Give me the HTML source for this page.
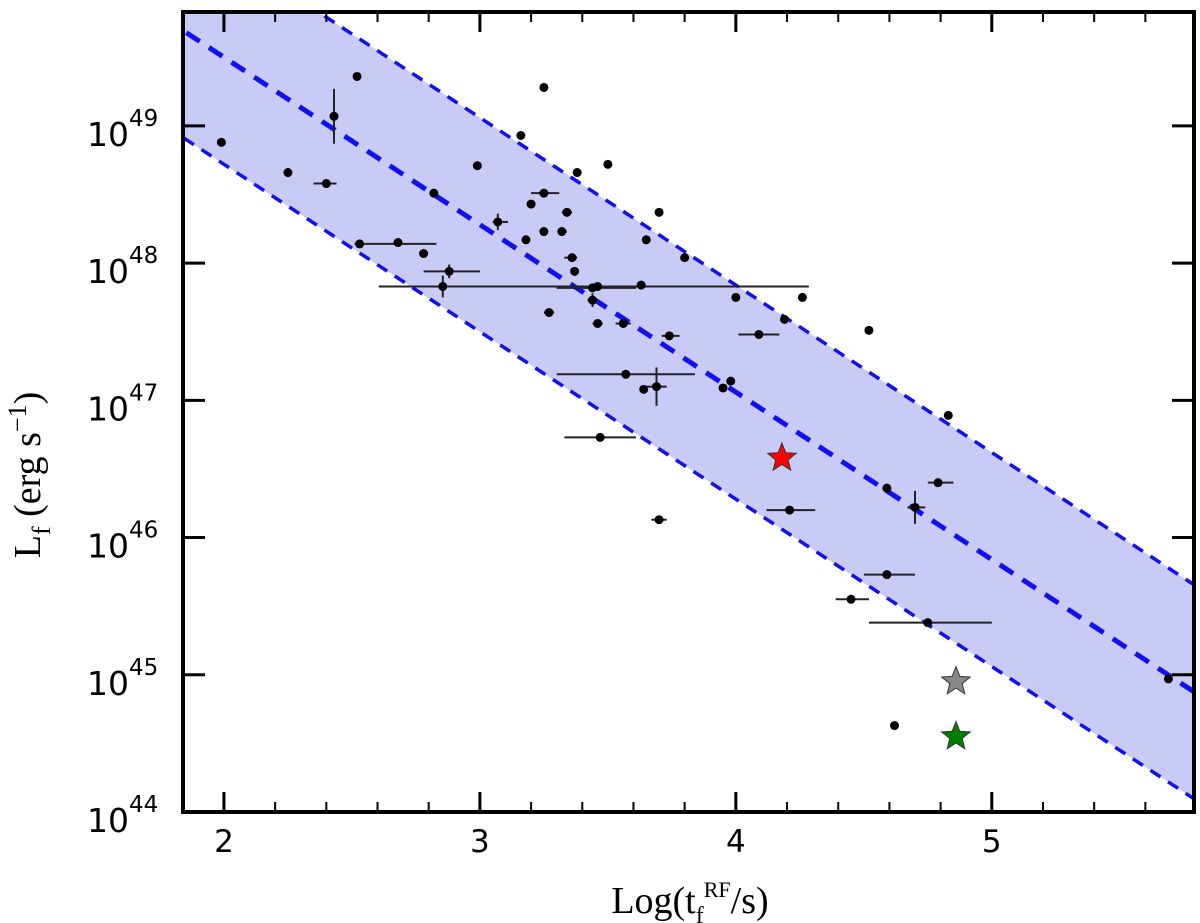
<!DOCTYPE html>
<html><head><meta charset="utf-8">
<style>
html,body{margin:0;padding:0;background:#fff;}
svg{display:block;}
</style></head>
<body>
<svg id="chart" width="1200" height="923" viewBox="0 0 1200 923" xmlns="http://www.w3.org/2000/svg">
<defs><clipPath id="pa"><rect x="183" y="12" width="1011" height="800"/></clipPath></defs>
<g id="band" clip-path="url(#pa)"></g>
<g id="marks" clip-path="url(#pa)"></g>
<g id="axes"></g>
<text x="40" y="475" transform="rotate(-90 40 475)" text-anchor="middle" font-family="Liberation Serif, serif" font-size="38">L<tspan font-size="26" dy="10">f</tspan><tspan dy="-10"> (erg s</tspan><tspan font-size="26" dy="-14">−1</tspan><tspan dy="14">)</tspan></text>
<text x="690" y="913" text-anchor="middle" font-family="Liberation Serif, serif" font-size="38">Log(t<tspan font-size="24" dy="10">f</tspan><tspan font-size="22" dy="-26">RF</tspan><tspan dy="16">/s)</tspan></text>
</svg>
<script>
const xVals=[1.99,2.25,2.52,2.43,2.40,2.53,2.68,2.78,2.82,2.88,2.855,2.99,3.07,3.16,3.25,3.20,3.18,3.25,3.25,3.32,3.34,3.38,3.50,3.36,3.37,3.27,3.44,3.44,3.46,3.46,3.56,3.70,3.65,3.63,3.74,3.80,3.57,3.64,3.69,3.47,3.70,4.00,3.95,3.98,4.09,4.19,4.26,4.52,4.21,4.59,4.45,4.59,4.79,4.70,4.75,4.62,4.83,5.69];
const yVals=[48.88,48.66,49.36,49.07,48.58,48.14,48.15,48.07,48.51,47.94,47.83,48.71,48.30,48.93,49.28,48.43,48.17,48.51,48.23,48.23,48.37,48.66,48.72,48.04,47.94,47.64,47.82,47.73,47.83,47.56,47.56,48.37,48.17,47.84,47.47,48.04,47.19,47.08,47.10,46.73,46.13,47.75,47.09,47.14,47.48,47.59,47.75,47.51,46.20,46.36,45.55,45.73,46.40,46.22,45.38,44.63,46.89,44.97];
const xErrLo=[0,0,0,0,0.05,0.02,0,0,0,0.10,0.25,0,0.02,0,0,0,0,0.05,0,0,0.02,0,0,0.03,0,0.02,0.14,0.02,0,0.02,0.03,0,0,0,0.03,0,0.27,0,0.04,0.14,0.03,0,0,0,0.08,0,0,0,0.09,0,0.06,0.09,0.04,0.03,0.23,0,0,0];
const xErrHi=[0,0,0,0,0.04,0.30,0,0,0,0.12,1.43,0,0.04,0,0,0,0,0.06,0,0.02,0.02,0,0,0.02,0,0.02,0.17,0.02,0,0.02,0.03,0,0,0,0.04,0,0.27,0,0.04,0.14,0.03,0,0,0,0.08,0,0,0,0.10,0,0.07,0.11,0.06,0.04,0.25,0,0,0];
const yErr=[0,0,0,0.20,0,0,0,0,0,0.05,0.08,0,0.06,0,0,0,0,0,0,0,0,0,0,0,0,0,0,0.05,0,0,0,0,0,0,0,0,0,0,0.14,0,0,0,0,0,0,0,0,0,0,0,0,0,0,0.12,0,0,0,0];
const starX=[4.18,4.86,4.86];
const starY=[46.58,44.95,44.55];
const starColors=['#ff0000','#888888','#008000'];
const fitIntercept=51.94, fitSlope=-1.22, fitOffset=0.78;
const xTicks=[2,3,4,5];
const yTicks=[44,45,46,47,48,49];

const NS='http://www.w3.org/2000/svg';
const X0=183,X1=1194,Y0=12,Y1=812,xmin=1.84,xmax=5.79,ymin=44,ymax=49.83;
const sx=v=>X0+(v-xmin)/(xmax-xmin)*(X1-X0);
const sy=v=>Y1-(v-ymin)/(ymax-ymin)*(Y1-Y0);
function mk(tag,attrs,parent){const e=document.createElementNS(NS,tag);for(const k in attrs)e.setAttribute(k,attrs[k]);parent.appendChild(e);return e;}
const band=document.getElementById('band'),marks=document.getElementById('marks'),axes=document.getElementById('axes');
const fit=(x,o)=>fitIntercept+fitSlope*x+o;
const xa=1.5,xb=6.2;
const poly=mk('polygon',{points:[[xa,fit(xa,fitOffset)],[xb,fit(xb,fitOffset)],[xb,fit(xb,-fitOffset)],[xa,fit(xa,-fitOffset)]].map(p=>sx(p[0])+','+sy(p[1])).join(' '),fill:'#c9cbf7'},band);


[fitOffset,0,-fitOffset].forEach((o,i)=>{
 const l=mk('line',{x1:sx(xa),y1:sy(fit(xa,o)),x2:sx(xb),y2:sy(fit(xb,o)),stroke:'#1010f0','stroke-width':i==1?5:3.5,'stroke-dasharray':i==1?'16,11':'12,9'},band);
 
 
});
for(let i=0;i<xVals.length;i++){
 const cx=sx(xVals[i]),cy=sy(yVals[i]);
 if(xErrLo[i]||xErrHi[i]){const e=mk('line',{x1:sx(xVals[i]-xErrLo[i]),x2:sx(xVals[i]+xErrHi[i]),y1:cy,y2:cy,stroke:'#222','stroke-width':2},marks);
  
  }
 if(yErr[i]){const e=mk('line',{x1:cx,x2:cx,y1:sy(yVals[i]-yErr[i]),y2:sy(yVals[i]+yErr[i]),stroke:'#222','stroke-width':2},marks);
  
  }
 const c=mk('circle',{cx:cx,cy:cy,r:4.5,fill:'#000'},marks);
 
 
}
for(let i=0;i<starX.length;i++){
 const cx=sx(starX[i]),cy=sy(starY[i]);let pts=[];
 for(let k=0;k<10;k++){const r=k%2?6.5:15,a=-Math.PI/2+k*Math.PI/5;pts.push((cx+r*Math.cos(a)).toFixed(1)+','+(cy+r*Math.sin(a)).toFixed(1));}
 const s=mk('polygon',{points:pts.join(' '),fill:starColors[i],stroke:'#333','stroke-width':1},marks);
 
 
}
const fr=mk('rect',{x:X0,y:Y0,width:X1-X0,height:Y1-Y0,fill:'none',stroke:'#000','stroke-width':4},axes);


for(let k=-1;k<=20;k++){const v=2+k*0.2;if(v<xmin||v>xmax)continue;const x=sx(v);const major=k%5===0;const L=major?20:10;
 mk('line',{x1:x,x2:x,y1:Y1,y2:Y1-L,stroke:'#000','stroke-width':major?3:2},axes);
 mk('line',{x1:x,x2:x,y1:Y0,y2:Y0+L,stroke:'#000','stroke-width':major?3:2},axes);}
xTicks.forEach(v=>{const t=mk('text',{x:sx(v),y:852,'text-anchor':'middle','font-family':'DejaVu Sans, sans-serif','font-size':31},axes);t.textContent=v;
 
 });
yTicks.forEach(v=>{const y=sy(v);
 mk('line',{x1:X0,x2:X0+22,y1:y,y2:y,stroke:'#000','stroke-width':3},axes);
 mk('line',{x1:X1,x2:X1-22,y1:y,y2:y,stroke:'#000','stroke-width':3},axes);
 const t=mk('text',{x:87,y:y+20,'font-family':'DejaVu Sans, sans-serif','font-size':33},axes);
 
 
 t.innerHTML='10<tspan font-size="23" dy="-20">'+v+'</tspan>';});
</script>
</body></html>
